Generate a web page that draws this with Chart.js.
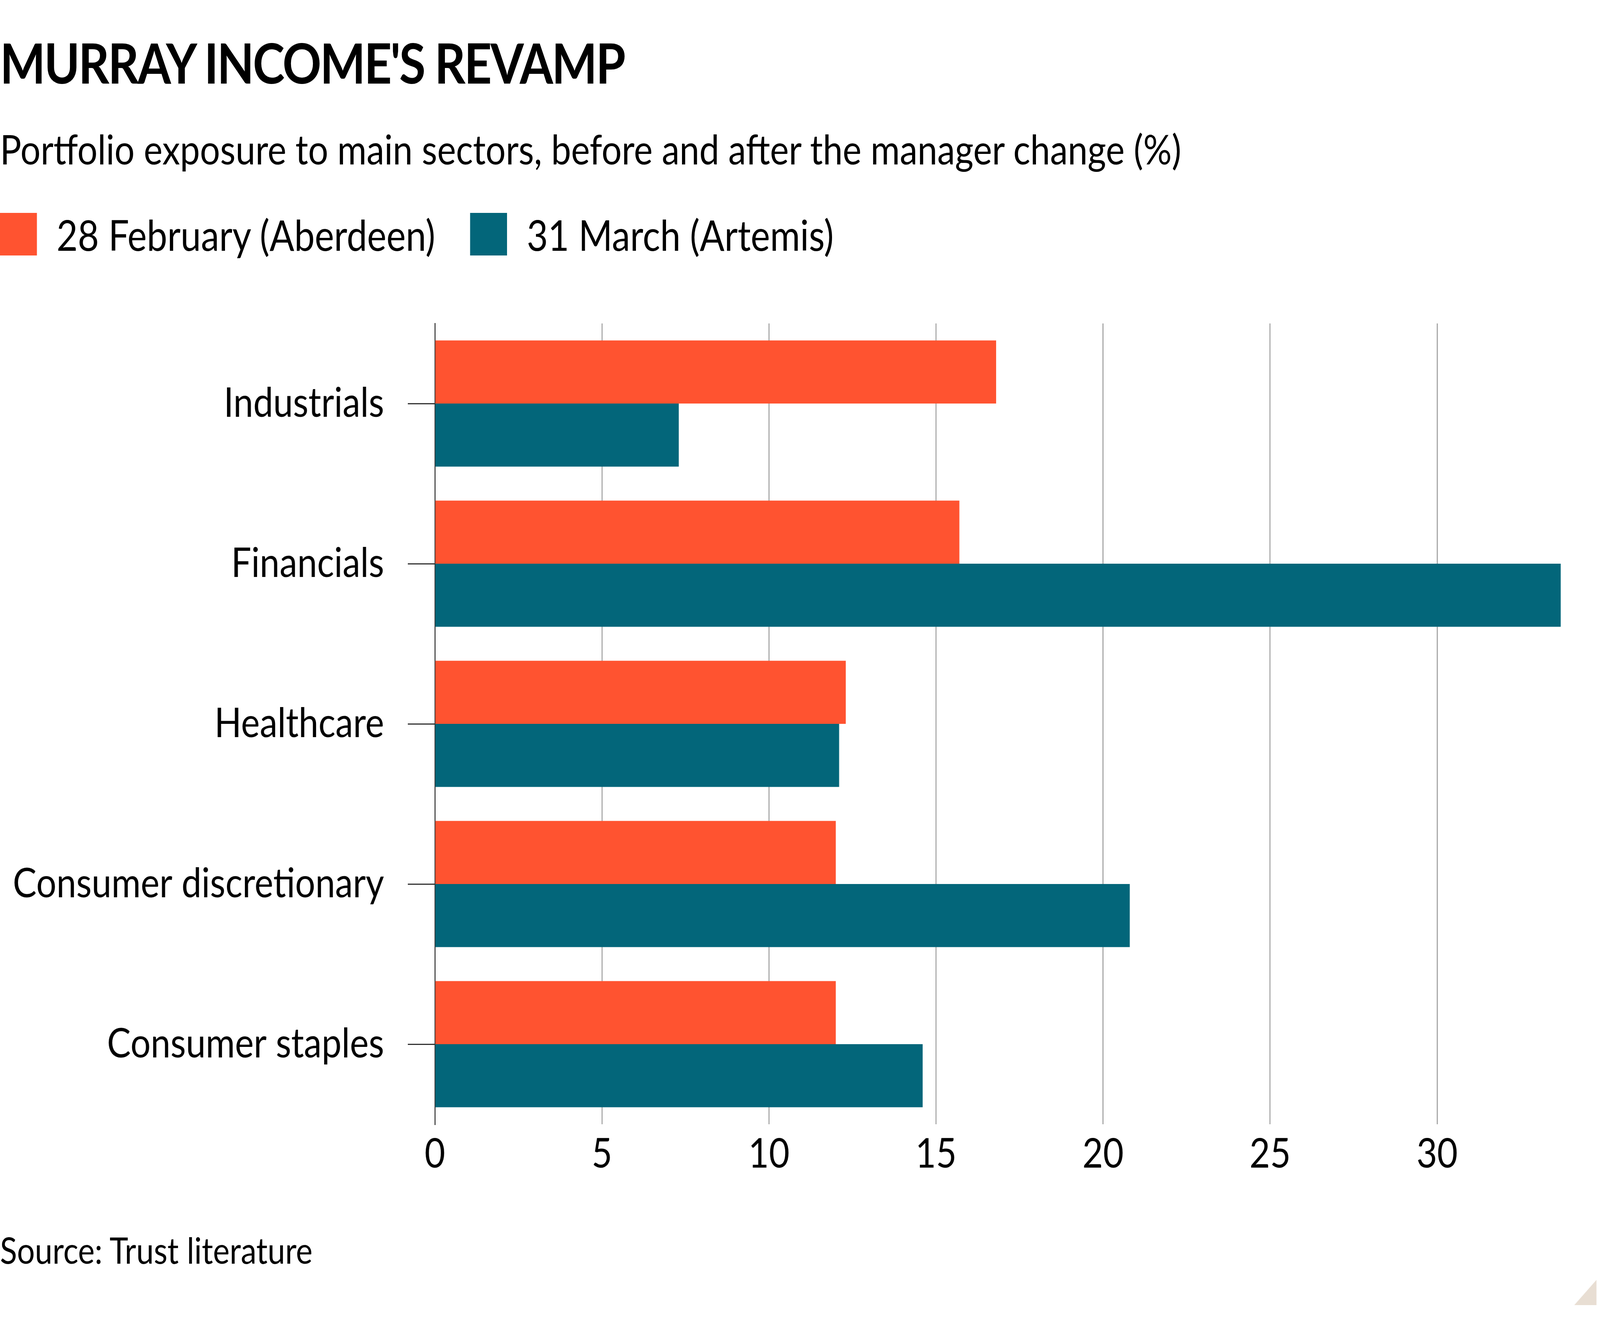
<!DOCTYPE html>
<html>
<head>
<meta charset="utf-8">
<script src="https://cdn.jsdelivr.net/npm/chart.js@4.4.1/dist/chart.umd.min.js"></script>
<style>
  html, body { margin: 0; padding: 0; background: #fff; overflow: hidden; }
  #page { position: absolute; left: 0; top: 0; width: 4724px; height: 3374px; transform-origin: 0 0; font-family: Lato, "Noto Sans", sans-serif; color: #000; background: #fff; }
  .txt { position: absolute; left: 0; line-height: 1; white-space: nowrap; }
  #title { top: 88px; font-size: 142px; font-weight: 700; letter-spacing: -4px; }
  #subtitle { top: 328px; font-size: 105px; }
  #legend { position: absolute; left: 0; top: 545px; height: 109px; display: flex; align-items: center; }
  .item { display: flex; align-items: center; margin-right: 103px; font-size: 108px; line-height: 1; }
  .box { width: 109px; height: 109px; margin-right: 58px; }
  #source { top: 3153px; font-size: 93px; }
  #corner { position: absolute; left: 4648px; top: 3276px; width: 66px; height: 65px; background: #e8ded3; clip-path: polygon(100% 0, 100% 100%, 0 100%); }
  #chart { position: absolute; left: 0; top: 0; }
</style>
</head>
<body>
<div id="page">
  <div id="title" class="txt">MURRAY INCOME'S REVAMP</div>
  <div id="subtitle" class="txt">Portfolio exposure to main sectors, before and after the manager change (%)</div>
  <div id="legend"></div>
  <canvas id="chart" width="4724" height="3374"></canvas>
  <div id="source" class="txt">Source: Trust literature</div>
  <div id="corner"></div>
</div>
<script>
const sectors = ["Industrials", "Financials", "Healthcare", "Consumer discretionary", "Consumer staples"]
const series_names = ["28 February (Aberdeen)", "31 March (Artemis)"]
const aberdeen = [16.8, 15.7, 12.3, 12.0, 12.0]
const artemis = [7.3, 33.7, 12.1, 20.8, 14.6]
const x_ticks = [0, 5, 10, 15, 20, 25, 30]

const colours = ["#ff5330", "#03667a"]
const font_family = "Lato, 'Noto Sans', sans-serif"

// the browser caps the viewport width, so stretch the 4724x3374 layout onto what we get
const page = document.getElementById("page")
const sx = window.innerWidth / 4724
const sy = window.innerHeight / 3374
page.style.transform = "scale(" + sx + "," + sy + ")"
document.body.style.width = window.innerWidth + "px"
document.body.style.height = window.innerHeight + "px"

const legend_div = document.getElementById("legend")
series_names.forEach(function (name, i)
{
  const item = document.createElement("div")
  item.className = "item"
  item.innerHTML = '<span class="box" style="background:' + colours[i] + '"></span><span>' + name + '</span>'
  legend_div.appendChild(item)
})

const chart_context = document.getElementById("chart").getContext("2d")

new Chart(chart_context,
{
  type: "bar",
  data:
  {
    labels: sectors,
    datasets:
    [
      { label: series_names[0], data: aberdeen, backgroundColor: colours[0] },
      { label: series_names[1], data: artemis, backgroundColor: colours[1] }
    ]
  },
  options:
  {
    indexAxis: "y",
    responsive: false,
    animation: false,
    devicePixelRatio: 1,
    layout: { padding: { top: 828, bottom: 346, left: 0, right: 116 } },
    datasets: { bar: { barPercentage: 1, categoryPercentage: 0.788, borderWidth: 0 } },
    plugins:
    {
      legend: { display: false },
      tooltip: { enabled: false },
      title: { display: false }
    },
    scales:
    {
      x:
      {
        min: 0,
        max: 33.7,
        afterFit: function (scale) { scale.height = 150 },
        afterBuildTicks: function (scale) { scale.ticks = x_ticks.map(function (v) { return { value: v } }) },
        border: { display: false },
        grid:
        {
          drawTicks: false,
          lineWidth: 3,
          color: function (ctx) { return ctx.tick && ctx.tick.value === 0 ? "#333333" : "#a0a0a0" }
        },
        ticks:
        {
          includeBounds: false,
          padding: 14,
          color: "#000",
          font: { family: font_family, size: 105 }
        }
      },
      y:
      {
        afterFit: function (scale) { scale.width = 1284 },
        border: { display: true, color: "#333333", width: 3 },
        grid:
        {
          offset: false,
          drawOnChartArea: false,
          drawTicks: true,
          tickLength: 80,
          lineWidth: 3,
          color: "#333333"
        },
        ticks:
        {
          padding: 70,
          color: "#000",
          font: { family: font_family, size: 105 }
        }
      }
    }
  }
})
</script>
</body>
</html>
